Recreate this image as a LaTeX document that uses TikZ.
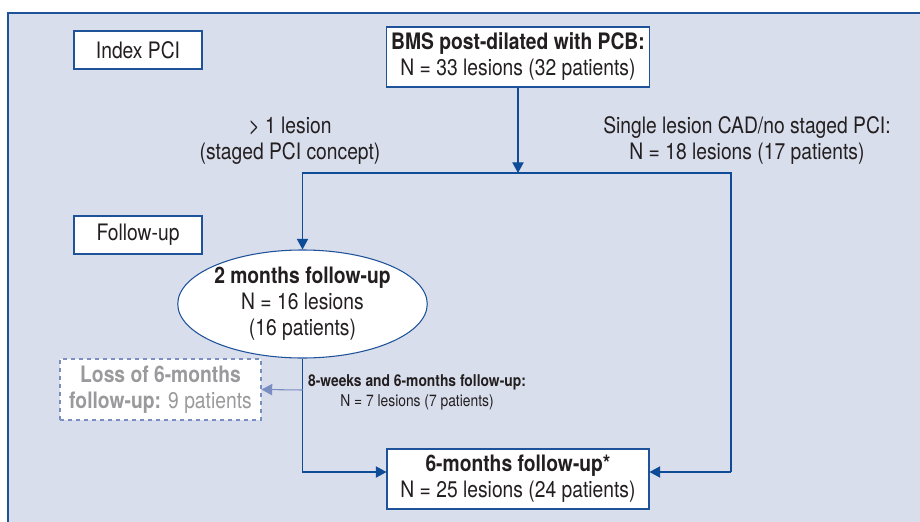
\documentclass[tikz,border=0pt]{standalone}
\usepackage{fontspec}
\setmainfont{TeX Gyre Heros}[FakeStretch=0.85]
\usepackage{xcolor}
\usepackage{tikz}
\usetikzlibrary{arrows.meta,positioning,shapes.geometric,calc}
\definecolor{panelbg}{HTML}{D9DEEC}
\definecolor{panelline}{HTML}{1E539A}
\definecolor{flowblue}{HTML}{0F4C97}
\definecolor{lossblue}{HTML}{7A8EC4}
\definecolor{lossgray}{HTML}{9A9A9C}
\definecolor{inkdark}{HTML}{231F20}
\tikzset{
  stagebox/.style={draw=panelline, thick, fill=white, minimum width=96pt, minimum height=28.5pt, font=\fontsize{17}{19.5}\selectfont, text=inkdark},
  countbox/.style={draw=panelline, thick, fill=white, minimum width=196.5pt, minimum height=45pt, align=center, font=\fontsize{17}{19.5}\selectfont, text=inkdark},
  countoval/.style={draw=panelline, thick, fill=white, ellipse, inner sep=0pt, minimum width=177.75pt, minimum height=81pt, align=center, font=\fontsize{17}{19.5}\selectfont, text=inkdark},
  lossbox/.style={draw=lossblue, thick, dashed, fill=white, minimum width=150.75pt, minimum height=45.75pt, align=center, font=\fontsize{17}{19.5}\selectfont, text=lossgray},
  branchlabel/.style={align=center, font=\fontsize{17}{19.5}\selectfont, text=inkdark},
  smalllabel/.style={align=center, font=\fontsize{12.2}{15}\selectfont, text=inkdark},
  flow/.style={-{Triangle[length=8pt,width=8.5pt]}, thick, draw=flowblue},
  flowline/.style={thick, draw=flowblue},
  lossflow/.style={-{Triangle[length=8pt,width=8.5pt]}, thick, draw=lossblue},
}
\begin{document}
\begin{tikzpicture}[x=0.75pt,y=-0.75pt]
  \useasboundingbox (0,0) rectangle (920,521);
  \fill[panelbg] (8,13) rectangle (930,530);
  \draw[panelline, line width=1.6pt] (8,530) -- (8,13) -- (930,13);

  \node[stagebox] (index) at (138,50) {Index PCI};
  \node[stagebox] (follow) at (138,235) {Follow-up};
  \node[countbox] (bms) at (518,57) {\textbf{BMS post-dilated with PCB:}\\N = 33 lesions (32 patients)};
  \node[countoval] (twomo) at (302.5,304) {\textbf{2 months follow-up}\\N = 16 lesions\\(16 patients)};
  \node[lossbox] (loss) at (160.5,389.5) {\textbf{Loss of 6-months}\\\textbf{follow-up:} 9 patients};
  \node[countbox] (sixmo) at (518,479) {\textbf{6-months follow-up*}\\N = 25 lesions (24 patients)};

  \node[branchlabel] (multi) at (290,141) {> 1 lesion\\(staged PCI concept)};
  \node[branchlabel] (single) at (747,141) {Single lesion CAD/no staged PCI:\\N = 18 lesions (17 patients)};
  \node[smalllabel] (both) at (417,392) {\textbf{8-weeks and 6-months follow-up:}\\N = 7 lesions (7 patients)};

  \coordinate (split) at (518,173);
  \coordinate (rcorner) at (731,472);
  \coordinate (lcorner) at (302.5,472);
  \coordinate (lossfork) at (302.5,390);

  \draw[flow] (bms.south) -- (split);
  \draw[flow] (split) -| (twomo.north);
  \draw[flowline] (split) -| (rcorner);
  \draw[flow] (rcorner) -- (rcorner -| sixmo.east);
  \draw[flow] (twomo.south) -- (lcorner) -- (lcorner -| sixmo.west);
  \draw[lossflow] (lossfork) -- (loss.east);
\end{tikzpicture}
\end{document}
